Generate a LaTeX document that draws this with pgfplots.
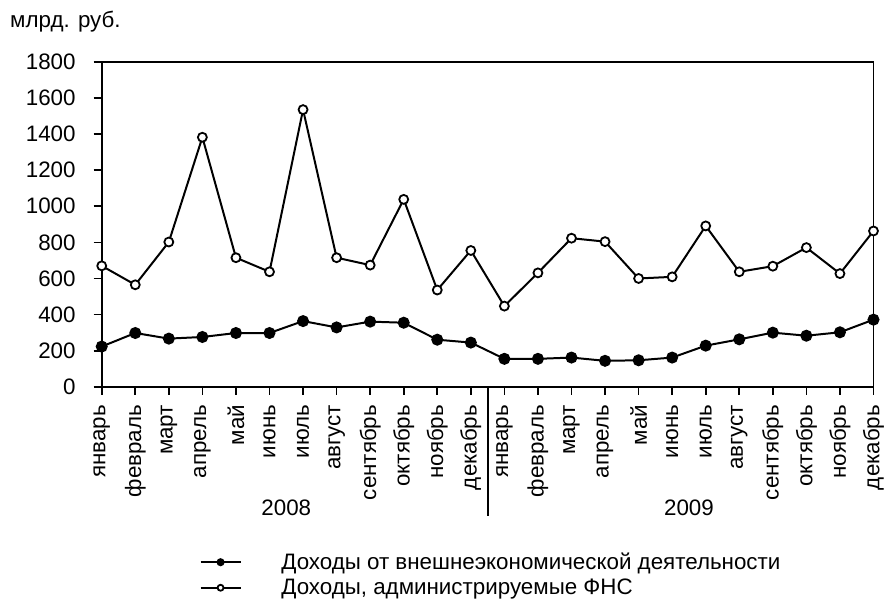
\documentclass[border=0pt]{standalone}
\usepackage{fontspec}
\setmainfont{Liberation Sans}
\usepackage{pgfplots}
\pgfplotsset{compat=1.18}
\begin{document}
\begin{tikzpicture}[font=\fontsize{22.5}{26}\selectfont]
\begin{axis}[
  scale only axis, width=774bp, height=326bp,
  xmin=0, xmax=23, ymin=0, ymax=1800,
  xtick={0,...,23},
  xticklabels={январь,февраль,март,апрель,май,июнь,июль,август,сентябрь,октябрь,ноябрь,декабрь,январь,февраль,март,апрель,май,июнь,июль,август,сентябрь,октябрь,ноябрь,декабрь},
  ytick={0,200,...,1800},
  tick align=outside, xtick pos=bottom, ytick pos=left,
  major tick length=8bp,
  every tick/.style={black, line width=1.6bp},
  axis line style={line width=1.8bp},
  x tick label style={rotate=90, anchor=east, inner xsep=0bp, inner ysep=2bp},
  xticklabel shift=10bp,
  y tick label style={inner sep=2bp, xshift=-16bp},
  /pgf/number format/assume math mode=true,
  /pgf/number format/1000 sep={},
  clip=false,
  legend style={at={(rel axis cs:0.1266,-0.505)}, anchor=north west, draw=none, fill=none,
     inner sep=0pt, row sep=4bp, font=\fontsize{22.5}{26}\selectfont,
     /tikz/every odd column/.append style={column sep=38bp}},
  legend cell align=left,
  legend image code/.code={\draw[mark repeat=2,mark phase=2,#1,mark size=3bp] plot coordinates {(0bp,0bp) (20bp,0bp) (40bp,0bp)};},
]
\addplot[black, line width=2bp, mark=*, mark size=5bp, mark options={fill=black}]
 coordinates {(0,223)(1,298)(2,267)(3,276)(4,298)(5,298)(6,364)(7,329)(8,361)(9,355)(10,261)(11,245)
 (12,155)(13,155)(14,162)(15,144)(16,147)(17,162)(18,228)(19,263)(20,300)(21,283)(22,302)(23,372)};
\addlegendentry{Доходы от внешнеэкономической деятельности}
\addplot[black, line width=2bp, mark=*, mark size=4.5bp, mark options={fill=white, line width=1.8bp}]
 coordinates {(0,670)(1,565)(2,802)(3,1382)(4,715)(5,637)(6,1535)(7,715)(8,674)(9,1038)(10,536)(11,755)
 (12,447)(13,631)(14,823)(15,804)(16,600)(17,609)(18,891)(19,637)(20,668)(21,771)(22,627)(23,863)};
\addlegendentry{Доходы, администрируемые ФНС}
\draw[line width=1.8bp] (axis cs:11.5,0) -- ([yshift=-130bp]axis cs:11.5,0);
\node at ([yshift=-121bp]axis cs:5.5,0) {2008};
\node at ([yshift=-121bp]axis cs:17.5,0) {2009};
\node[anchor=base west, inner sep=0pt] at ([xshift=-92bp,yshift=34bp]rel axis cs:0,1) {млрд. руб.};
\coordinate (bl) at (rel axis cs:-0.1318,-0.6595);
\coordinate (tr) at (rel axis cs:1.0129,1.190);
\end{axis}
\useasboundingbox (bl) rectangle (tr);
\end{tikzpicture}
\end{document}
